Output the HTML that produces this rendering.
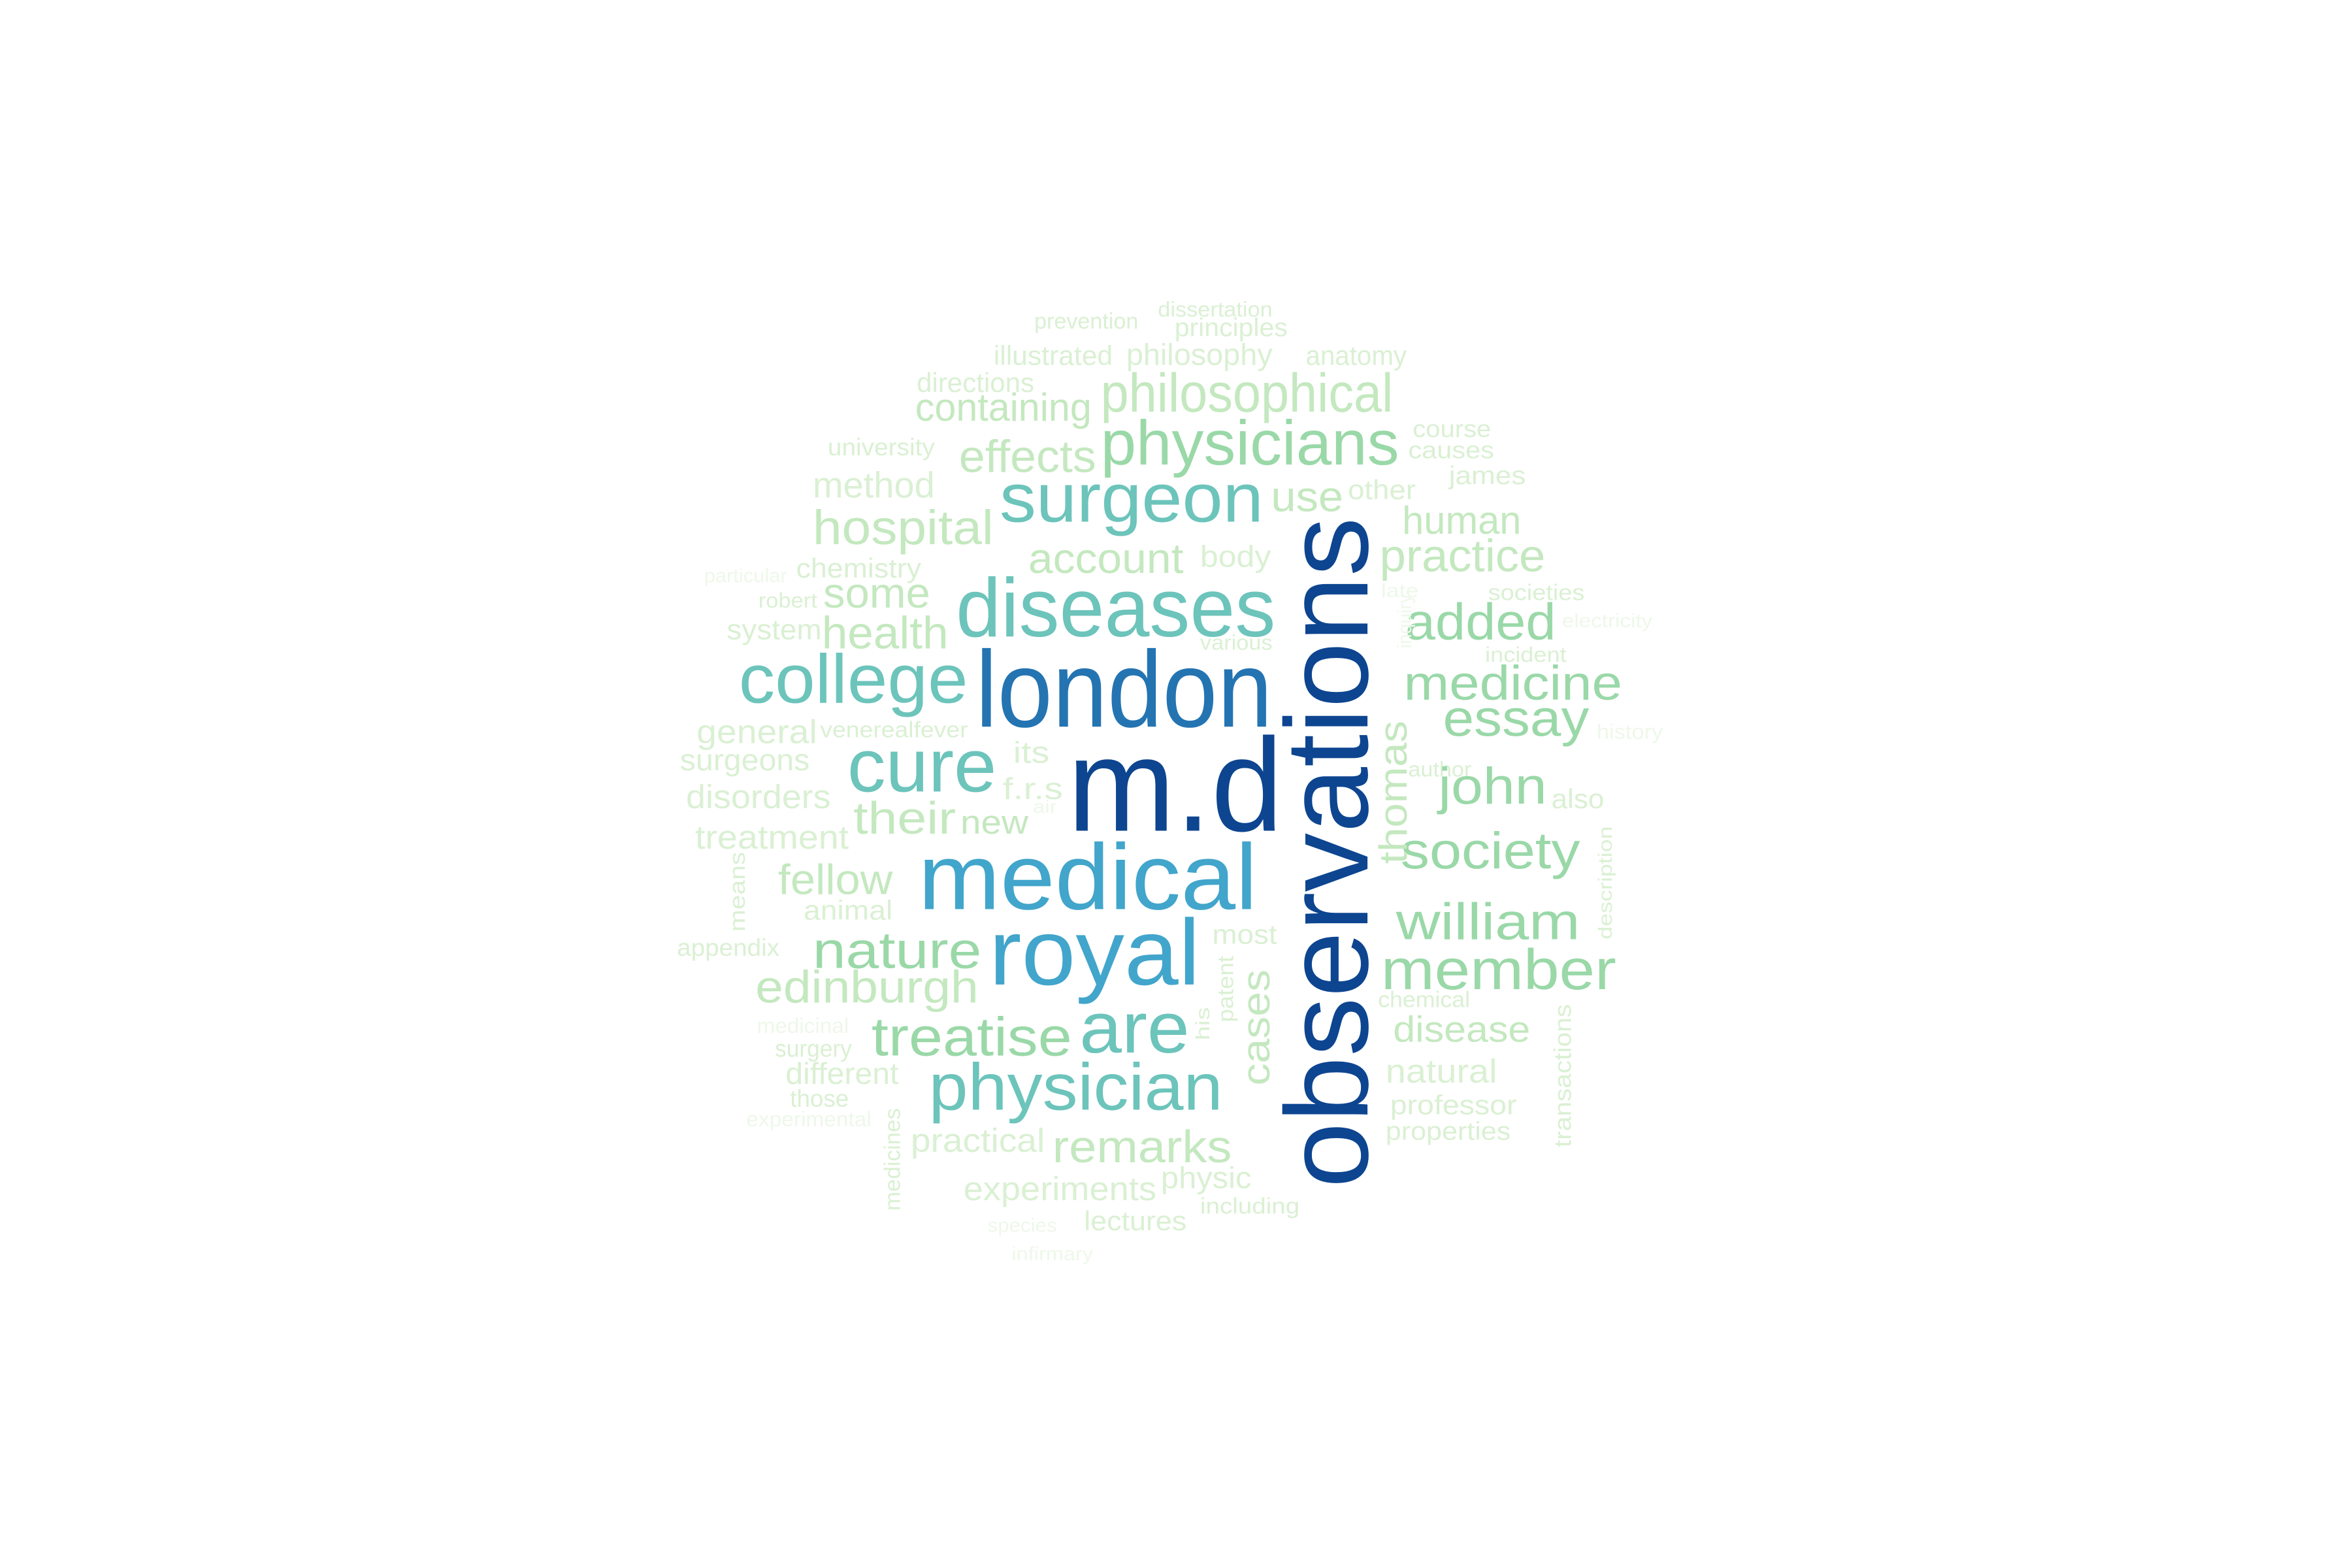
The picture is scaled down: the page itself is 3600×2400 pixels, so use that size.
<!DOCTYPE html>
<html><head><meta charset="utf-8"><style>
html,body{margin:0;padding:0;background:#fff;}
svg{display:block;}
text{font-family:"Liberation Sans",Arial,sans-serif;}
</style></head><body>
<svg id="cloud" width="3600" height="2400" viewBox="0 0 1560 1040" xmlns="http://www.w3.org/2000/svg">
<rect width="1560" height="1040" fill="#fff"/>
<g id="words" transform="translate(-4,-2)"></g>
</svg>
<script>
const palette = ["#0d4590","#2474b2","#42a5cb","#6cc4bb","#9ad8a8","#c4e8bf","#daf0d3","#eef8ea"];
// [word, x(left or baseline-x), y(baseline or bottom), width, fontSize, colorIdx, rotated]
const words = [
["observations",911,790,445,78,0,1],
["m.d",712,553,143,88,0,0],
["london",651,484,197,72,1,0],
["medical",613,605,225,62,2,0],
["royal",660,655,140,62,2,0],
["diseases",638,424,212,55,3,0],
["surgeon",667,348,175,46,3,0],
["college",494,468,152,46,3,0],
["cure",566,527,99,50,3,0],
["physician",620,738,195,44,3,0],
["are",720,700,73,48,3,0],
["physicians",734,310,198,42,4,0],
["philosophical",734,275,194,36,5,0],
["containing",611,281,117,26,5,0],
["directions",612,262,78,18,6,0],
["illustrated",663,244,79,18,6,0],
["philosophy",751,244,97,20,6,0],
["anatomy",870,244,67,18,6,0],
["prevention",690,220,69,15,6,0],
["dissertation",772,212,76,14,6,0],
["principles",783,225,75,17,6,0],
["university",553,304,71,16,6,0],
["effects",640,315,91,30,5,0],
["course",941,292,52,16,6,0],
["causes",938,306,57,16,6,0],
["james",965,323,51,17,6,0],
["method",543,332,81,24,6,0],
["use",847,341,48,28,5,0],
["other",898,333,45,18,6,0],
["hospital",543,363,120,32,5,0],
["human",934,356,79,26,5,0],
["account",686,382,103,28,5,0],
["body",800,378,47,20,6,0],
["practice",919,381,110,30,5,0],
["chemistry",532,385,83,18,6,0],
["particular",471,388,55,13,7,0],
["robert",507,405,39,14,6,0],
["some",550,405,71,28,5,0],
["late",920,398,25,13,7,0],
["societies",991,400,64,15,6,0],
["system",486,426,63,19,6,0],
["health",549,432,84,30,5,0],
["added",936,426,100,34,4,0],
["electricity",1040,418,60,13,7,0],
["various",800,433,48,14,6,0],
["incident",989,441,54,14,6,0],
["medicine",935,466,145,32,4,0],
["essay",961,490,97,34,4,0],
["history",1063,492,44,14,7,0],
["general",466,495,80,22,6,0],
["venerealfever",548,491,98,15,6,0],
["its",676,508,24,20,6,0],
["surgeons",455,513,86,20,6,0],
["f.r.s",669,532,40,20,6,0],
["author",938,517,42,14,6,0],
["john",958,535,72,34,4,0],
["also",1033,538,35,18,6,0],
["disorders",459,538,96,22,6,0],
["their",570,555,68,30,5,0],
["new",641,555,45,22,5,0],
["air",689,541,16,12,7,0],
["treatment",465,565,102,22,6,0],
["society",933,578,119,34,4,0],
["fellow",520,595,76,28,5,0],
["animal",537,612,59,18,6,0],
["william",930,625,122,34,4,0],
["appendix",453,636,68,16,6,0],
["most",808,628,43,18,6,0],
["nature",543,644,112,34,4,0],
["member",920,658,156,38,4,0],
["edinburgh",505,667,148,30,5,0],
["chemical",918,670,61,15,6,0],
["medicinal",506,687,61,14,7,0],
["treatise",582,702,133,36,4,0],
["disease",928,693,91,24,5,0],
["surgery",518,703,51,16,6,0],
["different",525,721,75,20,6,0],
["natural",923,720,74,22,6,0],
["those",528,736,39,16,6,0],
["professor",926,741,84,18,6,0],
["experimental",499,749,83,14,7,0],
["properties",923,758,83,17,6,0],
["practical",608,766,89,22,6,0],
["remarks",702,773,119,30,5,0],
["experiments",643,798,128,22,6,0],
["physic",774,790,60,20,6,0],
["including",800,807,66,15,6,0],
["lectures",723,818,68,18,6,0],
["species",659,819,46,13,7,0],
["infirmary",675,838,54,13,7,0],
["thomas",937,575,95,26,5,1],
["inquiry",940,432,36,13,7,1],
["description",1073,625,75,13,6,1],
["means",498,620,53,15,6,1],
["patent",822,680,44,15,6,1],
["his",806,692,22,13,6,1],
["cases",846,722,77,26,5,1],
["transactions",1046,763,95,16,6,1],
["medicines",601,805,68,15,6,1]
];
const g = document.getElementById('words');
const NS = "http://www.w3.org/2000/svg";
for (const [w,x,y,wd,fs,ci,rot] of words) {
  const t = document.createElementNS(NS,'text');
  
  
  t.textContent = w;
  t.setAttribute('font-size', fs);
  t.setAttribute('fill', palette[ci]);
  t.setAttribute('textLength', wd);
  t.setAttribute('lengthAdjust', 'spacingAndGlyphs');
  if (rot) {
    t.setAttribute('x', 0); t.setAttribute('y', 0);
    t.setAttribute('transform', `translate(${x},${y}) rotate(-90)`);
  } else {
    t.setAttribute('x', x); t.setAttribute('y', y);
  }
  g.appendChild(t);
}
</script>
</body></html>
